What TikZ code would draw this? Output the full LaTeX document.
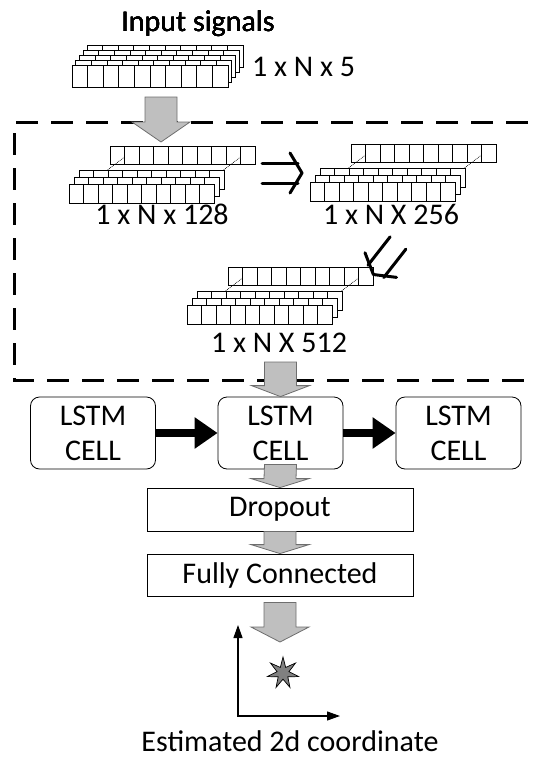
\documentclass[tikz,border=0pt]{standalone}
\usepackage{fontspec}
\setmainfont{Carlito}
\usetikzlibrary{arrows.meta,calc,shapes.geometric}

\definecolor{arrowfill}{RGB}{191,191,191}
\definecolor{arrowline}{RGB}{110,110,110}
\definecolor{starfill}{RGB}{128,128,128}

% a row of ten cells: left, top, cell width, height
\newcommand{\cellrow}[4]{%
  \foreach \i in {0,...,9}
    \draw[cell] ({#1+\i*#3},{#2}) rectangle ++(#3,#4);
}
% feature map: one row on top, three stacked rows below
\newcommand{\featmap}[2]{%
  \cellrow{#1-31}{#2+24}{14.5}{19}
  \cellrow{#1-36}{#2+31}{14.5}{19}
  \cellrow{#1-41}{#2+38}{14.5}{19}
  \cellrow{#1}{#2}{14.5}{18}
  \draw[link] ({#1+14.5},{#2+11}) -- ({#1-2.5},{#2+24});
  \draw[link] ({#1+130.5},{#2+11}) -- ({#1+113.5},{#2+24});
}
% gray block arrow: tail, tip, head length
\newcommand{\blockarrow}[3]{%
  \draw[blockarrow] ($(#1)+(-16,0)$) -- ($(#1)+(16,0)$) -- ($(#2)+(16,-#3)$)
    -- ($(#2)+(29,-#3)$) -- (#2) -- ($(#2)+(-29,-#3)$) -- ($(#2)+(-16,-#3)$) -- cycle;
}
% hollow double arrow: start, angle
\newcommand{\hollowarrow}[2]{%
  \begin{scope}[shift={#1}, rotate=#2]
    \draw[hollow] (0,-10) -- (36,-10) (0,10) -- (36,10);
    \draw[hollow] (28,-20) -- (40,0) -- (28,20);
  \end{scope}
}

\begin{document}
\begin{tikzpicture}[x=1pt,y=-1pt,
  txt/.style={font=\fontsize{30}{35}\selectfont, inner sep=0pt},
  cell/.style={draw, fill=white, line width=0.8pt},
  link/.style={densely dotted, line width=0.7pt},
  blockarrow/.style={draw=arrowline, fill=arrowfill, line width=0.8pt},
  hollow/.style={line width=3pt, line cap=round, line join=round},
  lstm/.style={draw, rounded corners=9pt, line width=0.8pt, minimum width=125pt,
    minimum height=72pt, align=center, font=\fontsize{30}{35}\selectfont},
  layerbox/.style={draw, line width=0.8pt, minimum width=266pt,
    font=\fontsize{30}{35}\selectfont},
  lstmflow/.style={line width=8pt, -{Triangle[length=23pt,width=30pt]}},
  axis/.style={line width=1.2pt, {Triangle[length=13pt,width=9pt]}-{Triangle[length=13pt,width=9pt]}}]
\useasboundingbox (0,0) rectangle (539,758);

% dashed frame round the convolution part
\draw[dashed, line width=3pt, dash pattern=on 22pt off 13pt] (528,122) -- (14,122) -- (14,380) -- (528,380);

% input stack
\foreach \k in {4,...,0}
  \cellrow{72+3.75*\k}{65-5*\k}{15.6}{22}
\node[txt, anchor=base] (inlab) at (198,31) {Input signals};
\node[txt, anchor=base west] (dimin) at (252,76) {1 x N x 5};

% feature maps
\featmap{110}{146}
\featmap{351}{144}
\featmap{228}{267}
\node[txt, anchor=base] (dim128) at (162,224) {1 x N x 128};
\node[txt, anchor=base] (dim256) at (391,224) {1 x N X 256};
\node[txt, anchor=base] (dim512) at (279,352) {1 x N X 512};

\hollowarrow{(262,173)}{0}
\hollowarrow{(398,243)}{-128}

% recurrent part
\node[lstm] (lstm1) at (93,433) {LSTM\\CELL};
\node[lstm] (lstm2) at (280.5,433) {LSTM\\CELL};
\node[lstm] (lstm3) at (458.5,433) {LSTM\\CELL};
\draw[lstmflow] (lstm1.east) -- (lstm2.west);
\draw[lstmflow] (lstm2.east) -- (lstm3.west);

\node[layerbox, minimum height=43pt] (drop) at (280,509.5) {Dropout};
\node[layerbox, minimum height=42pt] (fc) at (280,575) {Fully Connected};

% gray arrows
\coordinate (in1) at (161,97);
\coordinate (in2) at (161,142);
\coordinate (top512) at (280.5,362);
\coordinate (outtip) at (280,642);
\blockarrow{in1}{in2}{20}
\blockarrow{top512}{lstm2.north}{11}
\blockarrow{$(lstm2.south)+(0,-5)$}{drop.north}{9}
\blockarrow{drop.south}{fc.north}{9}
\blockarrow{$(fc.south)+(0,6)$}{outtip}{15}

% output plane
\coordinate (origin) at (238,716);
\coordinate (yend) at (238,625);
\coordinate (xend) at (340,716);
\draw[axis] (yend) -- (origin) -- (xend);
\node[star, star points=7, star point ratio=2.6, minimum size=32pt, inner sep=0pt,
  draw, fill=starfill, line width=0.7pt] (est) at (283,673) {};
\node[txt, anchor=base] (outlab) at (290,751) {Estimated 2d coordinate};
\end{tikzpicture}
\end{document}
